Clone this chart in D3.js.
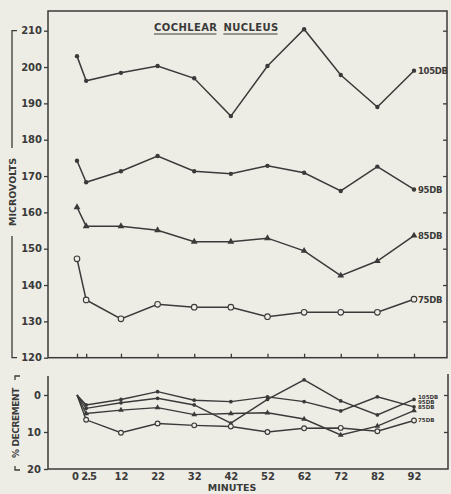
<!DOCTYPE html>
<html>
<head>
<meta charset="utf-8">
<script src="https://cdn.jsdelivr.net/npm/d3@7"></script>
<style>
  body { margin: 0; background: #eeede5; }
  svg { display: block; }
  text { font-family: "DejaVu Sans", sans-serif; font-weight: bold; fill: #3a3a3a; }
</style>
</head>
<body>
<div class="canvas"></div>
<script>
// data
const minutes = [0, 2.5, 12, 22, 32, 42, 52, 62, 72, 82, 92];
const xTickLabels = ['0', '2.5', '12', '22', '32', '42', '52', '62', '72', '82', '92'];
const seriesNames = ['105DB', '95DB', '85DB', '75DB'];
const titleWords = ['COCHLEAR', 'NUCLEUS'];

// microvolts (upper panel)
const mv105 = [203.0, 196.2, 198.4, 200.3, 196.9, 186.5, 200.3, 210.4, 197.8, 189.0, 199.0];
const mv95  = [174.2, 168.3, 171.3, 175.5, 171.3, 170.6, 172.8, 170.9, 165.9, 172.6, 166.3];
const mv85  = [161.4, 156.2, 156.2, 155.1, 151.9, 151.9, 152.9, 149.4, 142.6, 146.6, 153.6];
const mv75  = [147.2, 135.9, 130.7, 134.7, 133.9, 133.9, 131.3, 132.5, 132.5, 132.5, 136.1];
const mvTicks = [120, 130, 140, 150, 160, 170, 180, 190, 200, 210];

// % decrement (lower panel)
const dec105 = [0, 3.6, 2.1, 0.9, 2.7, 7.6, 1.2, -4.1, 1.6, 5.4, 1.2];
const dec95  = [0, 2.7, 1.2, -0.9, 1.4, 1.8, 0.5, 1.8, 4.3, 0.5, 3.2];
const dec85  = [0, 5.0, 4.1, 3.4, 5.3, 5.0, 4.8, 6.5, 10.8, 8.4, 4.2];
const dec75  = [0, 6.7, 10.2, 7.7, 8.2, 8.5, 10.0, 9.0, 8.9, 9.8, 6.9];
const decTicks = [0, 10, 20];

const ink = '#3a3a3a';
const paper = '#eeede5';

// main svg
const svg = d3.select('.canvas').append('svg')
    .attr('width', 451)
    .attr('height', 494);

// scales
const x = d3.scaleLinear().domain([0, 92]).range([77, 414]);
const yTop = d3.scaleLinear().domain([120, 210]).range([357.7, 30.7]);
const yBot = d3.scaleLinear().domain([0, 20]).range([395, 469]);

const frameL = 48, frameR = 447, frameT = 11;

// ---------- upper panel ----------
const upperG = svg.append('g');

upperG.append('rect')
    .attr('x', frameL).attr('y', frameT)
    .attr('width', frameR - frameL).attr('height', yTop(120) - frameT)
    .attr('fill', 'none').attr('stroke', ink).attr('stroke-width', 1.5);

const leftAxis = upperG.append('g')
    .attr('transform', `translate(${frameL},0)`)
    .call(d3.axisLeft(yTop).tickValues(mvTicks).tickSize(4).tickPadding(2));
leftAxis.select('.domain').remove();

const rightAxis = upperG.append('g')
    .attr('transform', `translate(${frameR},0)`)
    .call(d3.axisLeft(yTop).tickValues(mvTicks.slice(1)).tickSize(4).tickFormat(''));
rightAxis.select('.domain').remove();

const upperBottomAxis = upperG.append('g')
    .attr('transform', `translate(0,${yTop(120)})`)
    .call(d3.axisTop(x).tickValues(minutes).tickSize(4).tickFormat(''));
upperBottomAxis.select('.domain').remove();

// title, each word underlined separately
let tx = 154;
titleWords.forEach(w => {
  const t = upperG.append('text')
      .attr('x', tx).attr('y', 31)
      .attr('font-size', 10)
      .attr('letter-spacing', 0.4)
      .text(w);
  const len = t.node().getComputedTextLength();
  upperG.append('line')
      .attr('x1', tx).attr('x2', tx + len - 1)
      .attr('y1', 34).attr('y2', 34)
      .attr('stroke', ink).attr('stroke-width', 1.1);
  tx += len + 6;
});

// MICROVOLTS bracket label
upperG.append('path')
    .attr('d', `M17,${yTop(210)} H12 V148 M12,236 V${yTop(120)} H17`)
    .attr('fill', 'none').attr('stroke', ink).attr('stroke-width', 1.3);
upperG.append('text')
    .attr('transform', 'translate(15.5,192) rotate(-90)')
    .attr('text-anchor', 'middle')
    .attr('font-size', 9.5)
    .text('MICROVOLTS');

// markers: small dots, solid triangles, open circles
function drawMarkers(g, values, yScale, kind, size, skipFirst) {
  const pts = values.map((v, i) => [x(minutes[i]), yScale(v)])
    .filter((d, i) => !(skipFirst && i === 0));
  if (kind === 'dot') {
    g.selectAll(null).data(pts).enter().append('circle')
      .attr('cx', d => d[0]).attr('cy', d => d[1]).attr('r', 2.2 * size)
      .attr('fill', ink);
  } else if (kind === 'tri') {
    const tri = d3.symbol().type(d3.symbolTriangle).size(20 * size * size);
    g.selectAll(null).data(pts).enter().append('path')
      .attr('d', tri).attr('transform', d => `translate(${d[0]},${d[1]})`)
      .attr('fill', ink);
  } else {
    g.selectAll(null).data(pts).enter().append('circle')
      .attr('cx', d => d[0]).attr('cy', d => d[1]).attr('r', 2.8 * size)
      .attr('fill', paper).attr('stroke', ink).attr('stroke-width', 1.1);
  }
}

const lineUpper = d3.line()
    .x((d, i) => x(minutes[i]))
    .y(d => yTop(d));

const upper = [mv105, mv95, mv85, mv75];
const markers = ['dot', 'dot', 'tri', 'ring'];

upper.forEach((vals, k) => {
  const g = upperG.append('g');
  g.append('path')
    .attr('d', lineUpper(vals))
    .attr('fill', 'none').attr('stroke', ink).attr('stroke-width', 1.5);
  drawMarkers(g, vals, yTop, markers[k], 1, false);
  g.append('text')
    .attr('x', x(92) + 4).attr('y', yTop(vals[vals.length - 1]) + 3.5)
    .attr('font-size', 8.5)
    .attr('letter-spacing', -0.3)
    .text(seriesNames[k]);
});

// ---------- lower panel ----------
const lowerG = svg.append('g');

lowerG.append('path')
    .attr('d', `M${frameL},376 V${yBot(20)} H${frameR + 1} V374`)
    .attr('fill', 'none').attr('stroke', ink).attr('stroke-width', 1.5);

const botLeft = lowerG.append('g')
    .attr('transform', `translate(${frameL},0)`)
    .call(d3.axisLeft(yBot).tickValues(decTicks).tickSize(4).tickPadding(3));
botLeft.select('.domain').remove();

const botRight = lowerG.append('g')
    .attr('transform', `translate(${frameR + 1},0)`)
    .call(d3.axisLeft(yBot).tickValues([0, 10]).tickSize(4).tickFormat(''));
botRight.select('.domain').remove();

const botX = lowerG.append('g')
    .attr('transform', `translate(0,${yBot(20)})`)
    .call(d3.axisBottom(x).tickValues(minutes).tickSize(0).tickPadding(4)
      .tickFormat((d, i) => xTickLabels[i]));
botX.select('.domain').remove();
botX.selectAll('.tick').filter((d, i) => i === 0).select('text').attr('dx', -2);
botX.selectAll('.tick').filter((d, i) => i === 1).select('text').attr('dx', 2).attr('letter-spacing', -1);

lowerG.append('text')
    .attr('x', 232).attr('y', 491)
    .attr('text-anchor', 'middle')
    .attr('font-size', 9.5)
    .text('MINUTES');

// % DECREMENT bracket label
lowerG.append('path')
    .attr('d', 'M20,376 H15 V380 M15,466 V470 H20')
    .attr('fill', 'none').attr('stroke', ink).attr('stroke-width', 1.3);
lowerG.append('text')
    .attr('transform', 'translate(19,423) rotate(-90)')
    .attr('text-anchor', 'middle')
    .attr('font-size', 9)
    .attr('letter-spacing', -0.4)
    .text('% DECREMENT');

const lineLower = d3.line()
    .x((d, i) => x(minutes[i]))
    .y(d => yBot(d));

const lower = [dec105, dec95, dec85, dec75];
const lowerLabelY = [399, 404, 409, 422];

lower.forEach((vals, k) => {
  const g = lowerG.append('g');
  g.append('path')
    .attr('d', lineLower(vals))
    .attr('fill', 'none').attr('stroke', ink).attr('stroke-width', 1.4);
  drawMarkers(g, vals, yBot, markers[k], 0.85, true);
  g.append('text')
    .attr('x', x(92) + 4).attr('y', lowerLabelY[k])
    .attr('font-size', 5.5)
    .text(seriesNames[k]);
});

// axis styling
svg.selectAll('.tick line').attr('stroke', ink).attr('stroke-width', 1.3);
svg.selectAll('.tick text').attr('fill', ink)
    .style('font-family', '"DejaVu Sans", sans-serif').style('font-weight', 'bold');
leftAxis.selectAll('.tick text').attr('font-size', 10);
botLeft.selectAll('.tick text').attr('font-size', 10);
botX.selectAll('.tick text').attr('font-size', 10);
</script>
</body>
</html>
